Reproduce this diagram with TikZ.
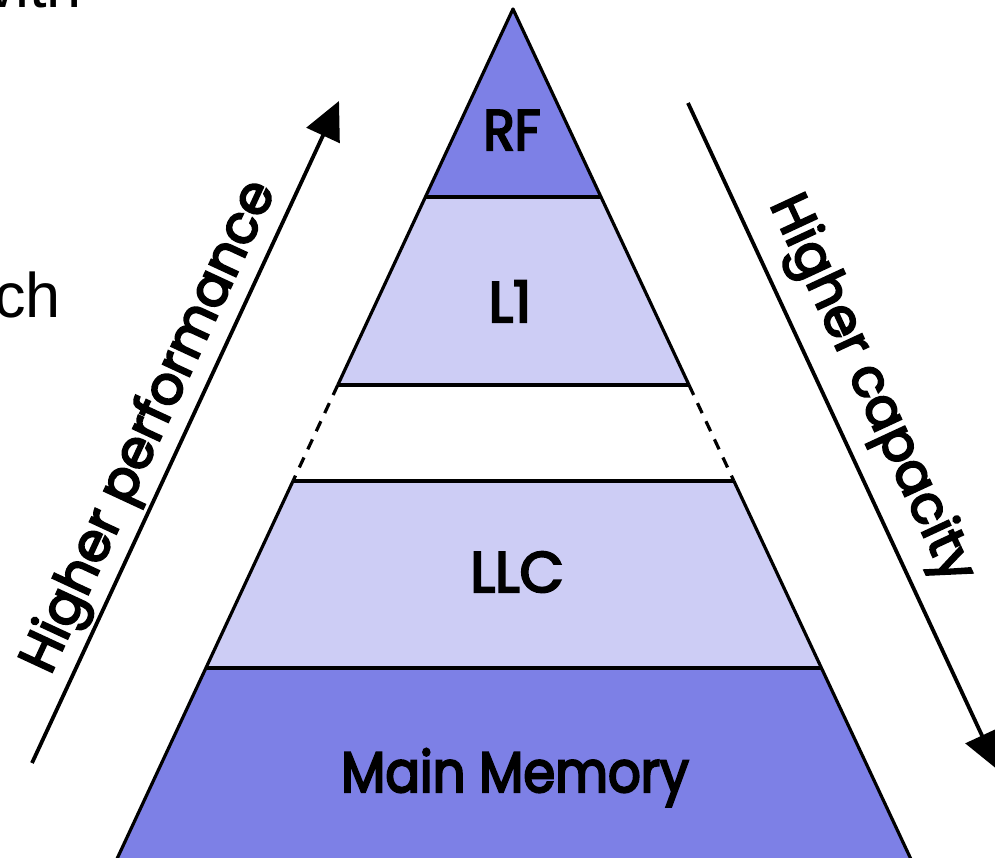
\documentclass[tikz,border=0pt]{standalone}
\usepackage{fontspec}
\setmainfont{Poppins}
\newfontfamily\labelfont{Poppins}[FakeBold=4]
\newfontfamily\slidefont{Liberation Sans}
\usetikzlibrary{arrows.meta}
\definecolor{darktier}{RGB}{125,128,230}
\definecolor{lighttier}{RGB}{205,205,245}
\tikzset{
  edgeline/.style={line width=3.2pt, line join=round},
  gapline/.style={line width=3.2pt, dash pattern=on 11pt off 9pt},
  tierlabel/.style={font=\labelfont\fontsize{57}{64}\selectfont, text=black, inner sep=0pt, anchor=base},
  sidetext/.style={font=\labelfont\fontsize{53}{60}\selectfont, inner sep=0pt, anchor=base},
  slidetext/.style={font=\slidefont\fontsize{63}{70}\selectfont, inner sep=0pt, anchor=base east},
  bigarrow/.style={line width=3.8pt, -{Triangle[length=38pt,width=36pt]}},
}
\begin{document}
\begin{tikzpicture}[x=1pt,y=-1pt]
\useasboundingbox (0,0) rectangle (995,857);
\clip (0,0) rectangle (995,857);
% edge points of the pyramid
\coordinate (apex) at (513,9);
\coordinate (l1) at (425.4,197);  \coordinate (r1) at (601.0,197);
\coordinate (l2) at (337.8,385);  \coordinate (r2) at (689.0,385);
\coordinate (l3) at (293.0,481);  \coordinate (r3) at (733.9,481);
\coordinate (l4) at (205.9,668);  \coordinate (r4) at (821.4,668);
\coordinate (l5) at (111.8,870);  \coordinate (r5) at (916.0,870);
% fills
\fill[darktier] (apex) -- (r1) -- (l1) -- cycle;
\fill[lighttier] (l1) -- (r1) -- (r2) -- (l2) -- cycle;
\fill[lighttier] (l3) -- (r3) -- (r4) -- (l4) -- cycle;
\fill[darktier] (l4) -- (r4) -- (r5) -- (l5) -- cycle;
% outlines
\draw[edgeline] (l2) -- (apex) -- (r2);
\draw[gapline] (l2) -- (l3);
\draw[gapline] (r2) -- (r3);
\draw[edgeline] (l3) -- (l5);
\draw[edgeline] (r3) -- (r5);
\draw[edgeline] (l1) -- (r1);
\draw[edgeline] (l2) -- (r2);
\draw[edgeline] (l3) -- (r3);
\draw[edgeline] (l4) -- (r4);
% labels
\node[tierlabel, xscale=0.9] (rf) at (512,150) {RF};
\node[tierlabel] (lone) at (510,322) {L1};
\node[tierlabel] (llc) at (517,592) {LLC};
\node[tierlabel, xscale=0.9] (mem) at (515,792) {Main Memory};
% arrows
\coordinate (pstart) at (32,763);
\coordinate (ptip) at (339,101);
\coordinate (cstart) at (688,103);
\coordinate (ctip) at (998,770);
\draw[bigarrow] (pstart) -- (ptip);
\draw[bigarrow] (cstart) -- (ctip);
\node[sidetext, rotate=65.1] (perf) at (163,433) {Higher performance};
\node[sidetext, rotate=-65.1] (cap) at (858,395) {Higher capacity};
% cut slide text
\node[slidetext] (with) at (82,7) {with};
\node[slidetext] (ch) at (61,317) {ch};
\end{tikzpicture}
\end{document}
